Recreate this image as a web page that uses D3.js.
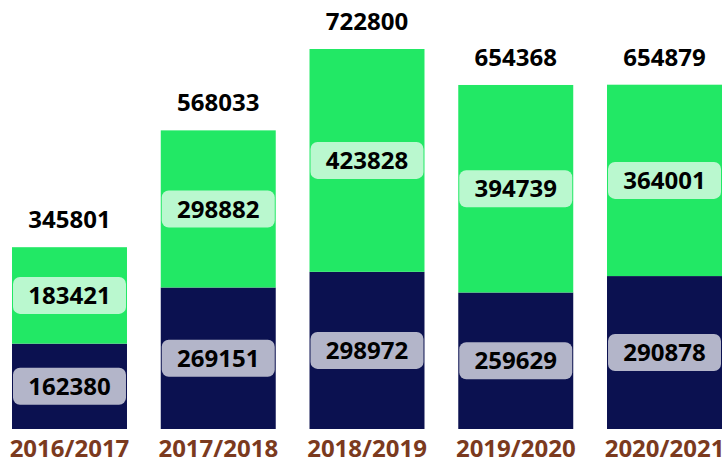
<!DOCTYPE html>
<html><head><meta charset="utf-8">
<script src="https://cdn.jsdelivr.net/npm/d3@7"></script>
<style>body{margin:0;background:#fff}svg{display:block}</style>
</head><body>
<svg id="c" width="726" height="465"></svg>
<script>
const categories = ["2016/2017","2017/2018","2018/2019","2019/2020","2020/2021"];
const bottomValues = [162380,269151,298972,259629,290878];
const topValues = [183421,298882,423828,394739,364001];
const totals = [345801,568033,722800,654368,654879];
const colors = {bottom:"#0b1150", top:"#22e865", axis:"#7b3a1e"};

const svg = d3.select("#c");
const x = d3.scaleBand().domain(categories).range([12,722]).paddingInner(0.227).paddingOuter(0);
const y = d3.scaleLinear().domain([0,722800]).range([429,49]);
const bw = x.bandwidth();
const font = "'Open Sans', sans-serif";
const fs = 24;

const data = categories.map((c,i)=>({c, b:bottomValues[i], t:topValues[i], tot:totals[i]}));

const segs = [];
data.forEach(d=>{
  segs.push({c:d.c, y0:0, y1:d.b, v:d.b, col:colors.bottom});
  segs.push({c:d.c, y0:d.b, y1:d.b+d.t, v:d.t, col:colors.top});
});

svg.selectAll("rect.bar").data(segs).join("rect").attr("class","bar")
  .attr("x",d=>x(d.c)).attr("width",bw)
  .attr("y",d=>y(d.y1)).attr("height",d=>y(d.y0)-y(d.y1))
  .attr("fill",d=>d.col);

const lab = svg.selectAll("g.lab").data(segs).join("g").attr("class","lab")
  .attr("transform",d=>`translate(${x(d.c)+bw/2},${(y(d.y0)+y(d.y1))/2})`);
lab.append("rect").attr("x",-bw/2+1).attr("width",bw-2).attr("y",-18.5).attr("height",37)
  .attr("rx",7).attr("fill","#fff").attr("fill-opacity",0.69);
lab.append("text").attr("text-anchor","middle").attr("dy","0.36em")
  .attr("font-family",font).attr("font-weight","bold").attr("font-size",fs)
  .attr("fill","#000").text(d=>d.v);

svg.selectAll("text.tot").data(data).join("text").attr("class","tot")
  .attr("x",d=>x(d.c)+bw/2).attr("y",d=>y(d.tot)-19)
  .attr("text-anchor","middle").attr("font-family",font).attr("font-weight","bold")
  .attr("font-size",fs).attr("fill","#000").text(d=>d.tot);

const ax = svg.append("g").attr("transform","translate(0,429)")
  .call(d3.axisBottom(x).tickSize(0).tickPadding(11));
ax.select(".domain").remove();
ax.selectAll("text").attr("font-family",font).attr("font-weight","bold")
  .attr("font-size",fs).attr("fill",colors.axis).attr("dy","0.71em");
</script>
</body></html>
